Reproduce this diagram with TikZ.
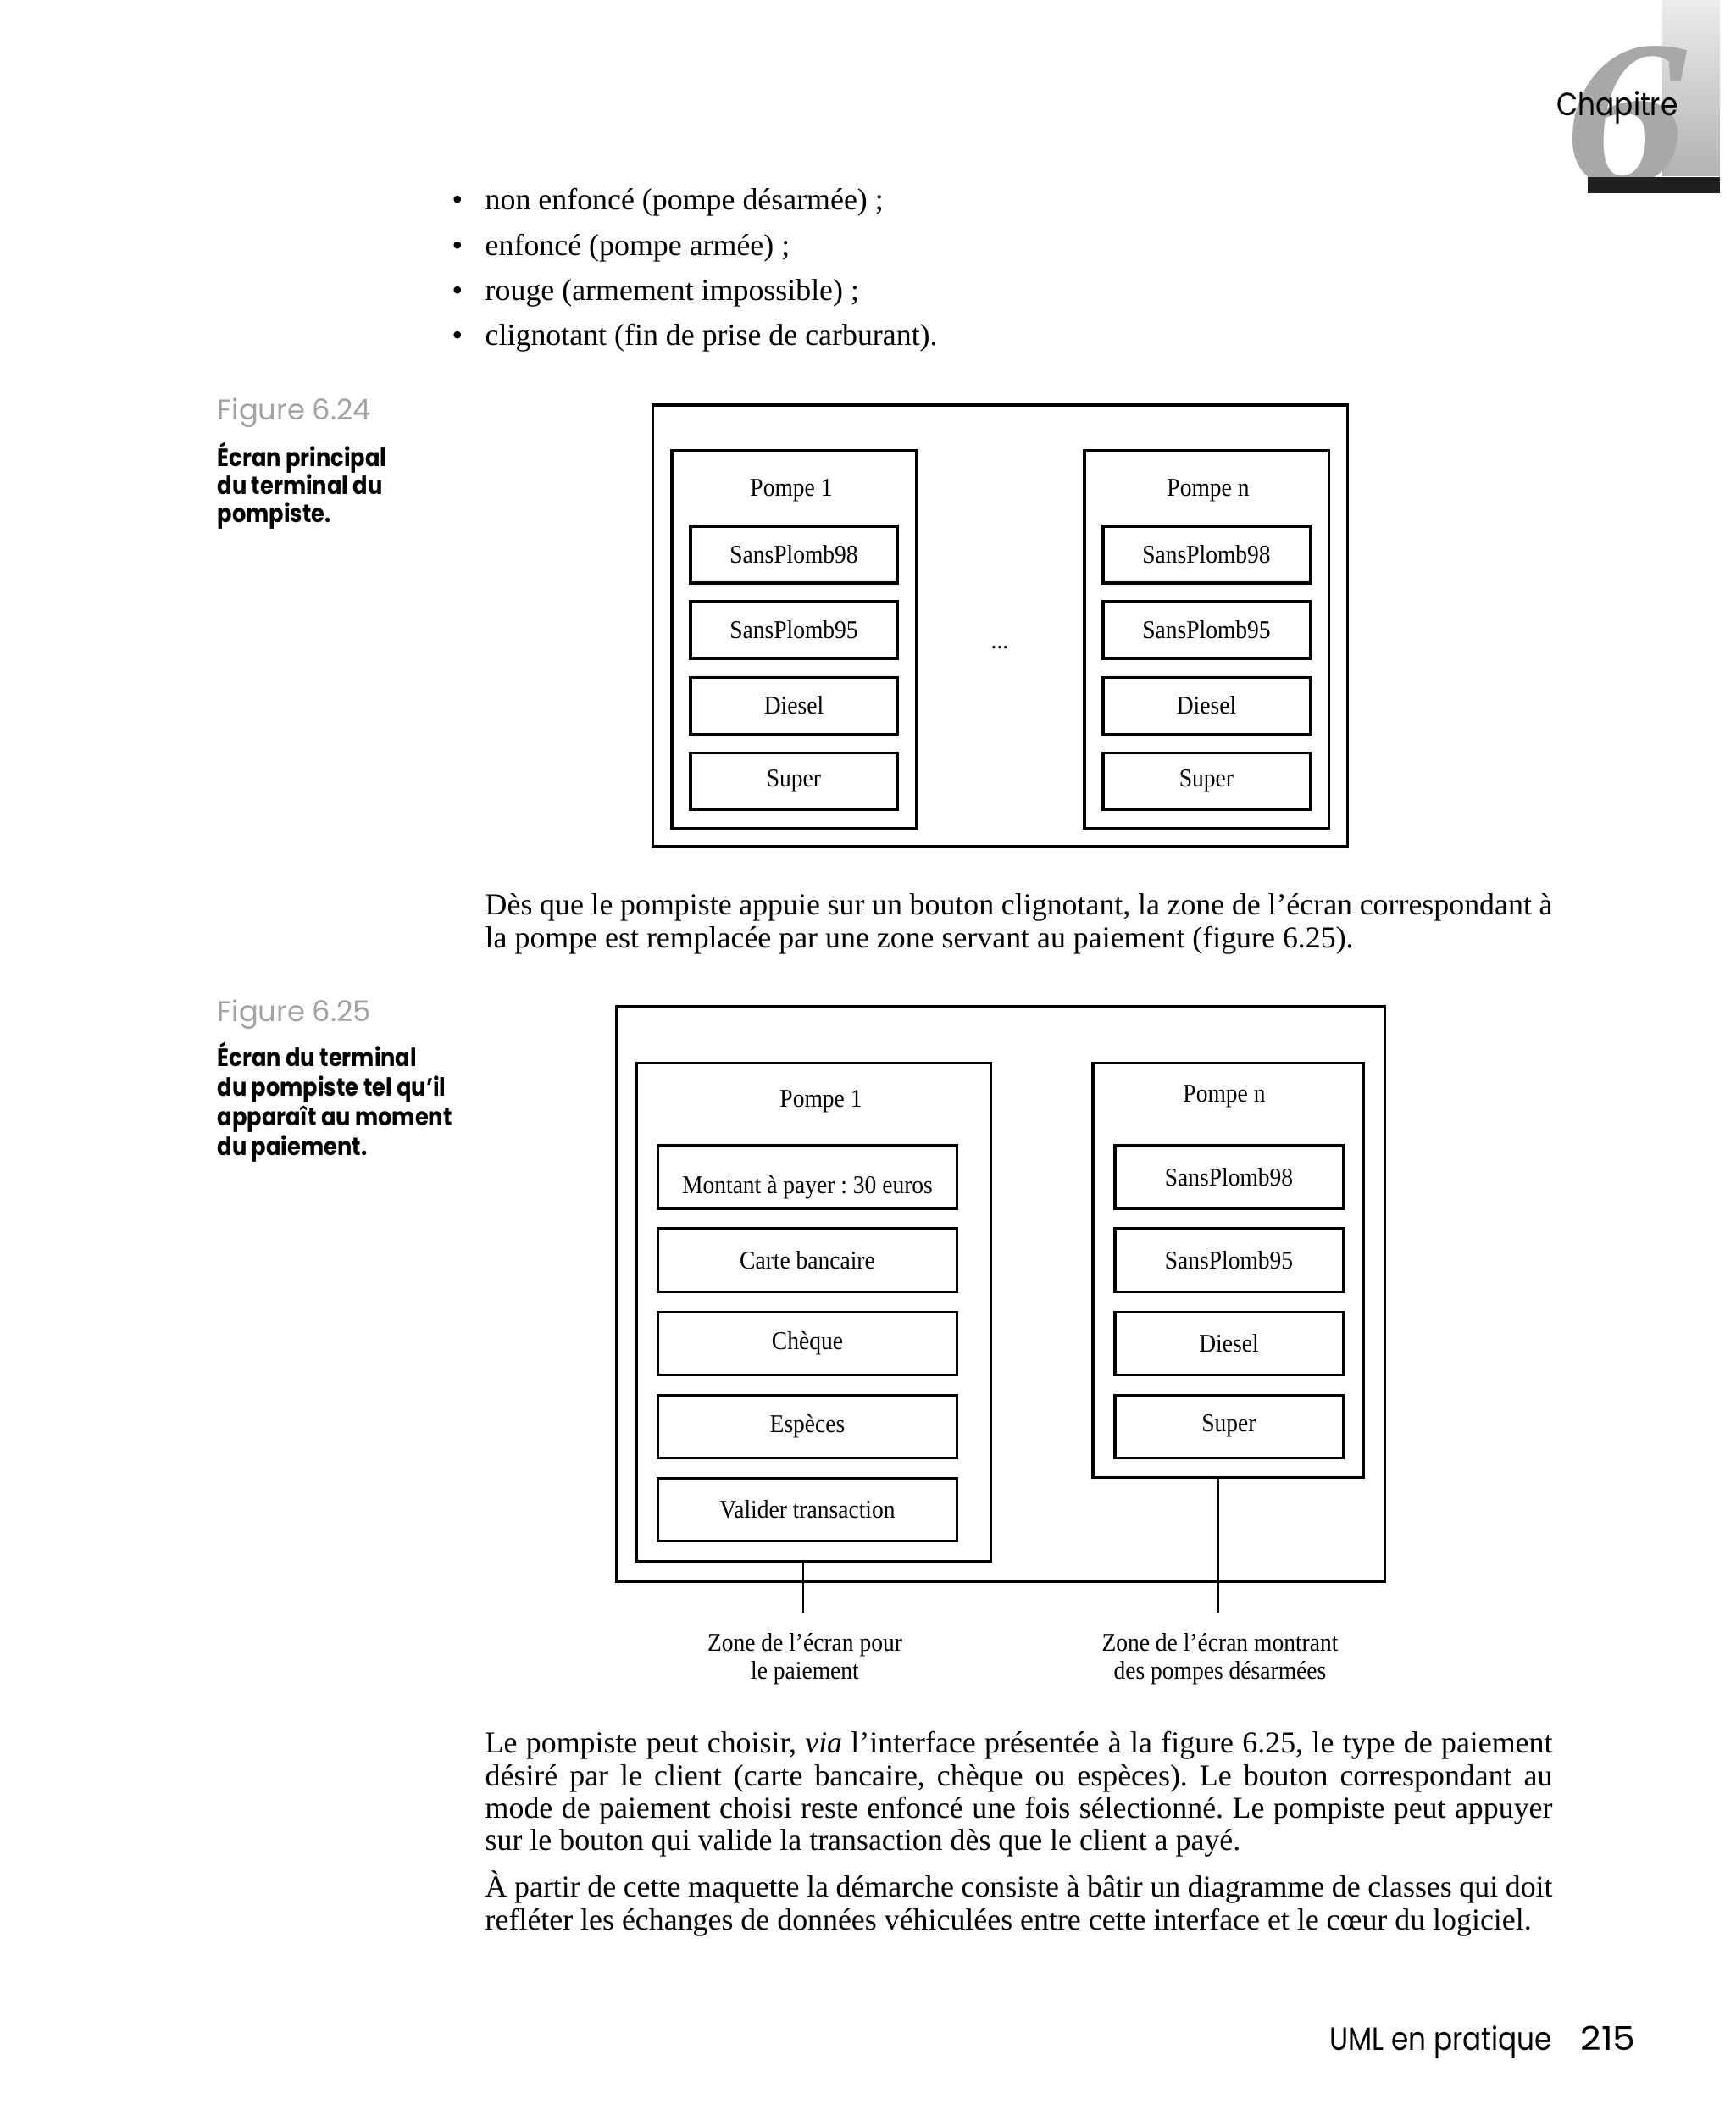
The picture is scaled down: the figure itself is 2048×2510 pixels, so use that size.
\documentclass[tikz,border=0pt]{standalone}
\usepackage{fontspec}
\setmainfont{Liberation Serif}
\newfontfamily\diagfont{Liberation Serif}[FakeStretch=0.91]
\newfontfamily\capfont{Poppins}
\newfontfamily\capboldfont{Poppins}[FakeStretch=0.87]
\newfontfamily\runfont{Poppins}[FakeStretch=0.86]
\newfontfamily\folio{Poppins}[FakeStretch=1.1]
\usetikzlibrary{positioning}
\definecolor{capgray}{gray}{0.64}
\definecolor{sixgray}{gray}{0.66}
\newcommand{\justline}[1]{\makebox[12.59cm][s]{#1}}
\frenchspacing

\tikzset{screen frame/.style={draw,line width=0.95pt,inner sep=0pt},
pump panel/.style={draw,line width=0.9pt,inner sep=0pt},
fuel button/.style={draw,line width=0.9pt,inner sep=0pt,outer sep=0pt,font=\diagfont\fontsize{8.6pt}{10pt}\selectfont},
panel title/.style={anchor=base,inner sep=0pt,font=\diagfont\fontsize{8.6pt}{10pt}\selectfont},
zone label/.style={align=center,inner sep=0pt,font=\diagfont\fontsize{8.6pt}{9.4pt}\selectfont},
zone line/.style={line width=0.6pt},
body line/.style={anchor=base west,inner sep=0pt,font=\fontsize{10.2pt}{12pt}\selectfont},
figure number/.style={anchor=base west,inner sep=0pt,text=capgray,font=\capfont\fontsize{9.6pt}{11pt}\selectfont},
figure title/.style={anchor=base west,inner sep=0pt,font=\capboldfont\bfseries\fontsize{8.4pt}{10pt}\selectfont},
running head/.style={anchor=base west,inner sep=0pt,font=\runfont\fontsize{10.8pt}{12pt}\selectfont}}

\begin{document}
\begin{tikzpicture}[x=0.01cm,y=-0.01cm]
\useasboundingbox (0,0) rectangle (2048,2510);

%% chapter mark
\shade[top color=gray!15,bottom color=gray!60] (1962,0) rectangle (2030,208);
\node [anchor=base,inner sep=0pt,xscale=1.18,text=sixgray,font=\fontsize{70pt}{70pt}\selectfont\bfseries\itshape] (chapsix) at (1919,218) {6};
\fill [black!88] (1874,209) rectangle (2030,228);
\node [running head] (chaphead) at (1837,137) {Chapitre};

%% bullet list
\node [body line] (dot1) at (533,248) {•};
\node [body line] (dot2) at (533,302) {•};
\node [body line] (dot3) at (533,355) {•};
\node [body line] (dot4) at (533,408) {•};
\node [body line] (item1) at (572,248) {non enfoncé (pompe désarmée) ;};
\node [body line] (item2) at (572,302) {enfoncé (pompe armée) ;};
\node [body line] (item3) at (572,355) {rouge (armement impossible) ;};
\node [body line] (item4) at (572,408) {clignotant (fin de prise de carburant).};

%% caption of figure 6.24
\node [figure number] (numA) at (256,496) {Figure 6.24};
\node [figure title] (titA1) at (256,551) {Écran principal};
\node [figure title] (titA2) at (256,584) {du terminal du};
\node [figure title] (titA3) at (256,617) {pompiste.};

%% figure 6.24
\node [screen frame,minimum width=8.19cm,minimum height=5.21cm] (scrA) at (1180.5,738.5) {};
\node [pump panel,minimum width=2.88cm,minimum height=4.45cm] (pA1) at (937,754.5) {};
\node [pump panel,minimum width=2.88cm,minimum height=4.45cm] (pAn) at (1424,754.5) {};
\node [panel title] (pA1t) at (934,586) {Pompe 1};
\node [panel title] (pAnt) at (1426,586) {Pompe n};
\node [fuel button,minimum width=2.44cm,minimum height=0.67cm] (a1sp98) at (937,654.5) {SansPlomb98};
\node [fuel button,minimum width=2.44cm,minimum height=0.67cm,below=0.22cm of a1sp98] (a1sp95) {SansPlomb95};
\node [fuel button,minimum width=2.44cm,minimum height=0.67cm,below=0.22cm of a1sp95] (a1dsl) {Diesel};
\node [fuel button,minimum width=2.44cm,minimum height=0.67cm,below=0.22cm of a1dsl] (a1sup) {Super};
\node [fuel button,minimum width=2.44cm,minimum height=0.67cm] (ansp98) at (1424,654.5) {SansPlomb98};
\node [fuel button,minimum width=2.44cm,minimum height=0.67cm,below=0.22cm of ansp98] (ansp95) {SansPlomb95};
\node [fuel button,minimum width=2.44cm,minimum height=0.67cm,below=0.22cm of ansp95] (andsl) {Diesel};
\node [fuel button,minimum width=2.44cm,minimum height=0.67cm,below=0.22cm of andsl] (ansup) {Super};
\node [panel title] (aDots) at (1180,765) {...};

%% paragraph after figure 6.24
\node [body line] (parA1) at (572,1079) {\justline{Dès que le pompiste appuie sur un bouton clignotant, la zone de l’écran correspondant à}};
\node [body line] (parA2) at (572,1118) {la pompe est remplacée par une zone servant au paiement (figure 6.25).};

%% caption of figure 6.25
\node [figure number] (numB) at (256,1205) {Figure 6.25};
\node [figure title] (titB1) at (256,1258) {Écran du terminal};
\node [figure title] (titB2) at (256,1293) {du pompiste tel qu’il};
\node [figure title] (titB3) at (256,1328) {apparaît au moment};
\node [figure title] (titB4) at (256,1363) {du paiement.};

%% figure 6.25
\node [screen frame,minimum width=9.06cm,minimum height=6.78cm] (scrB) at (1181,1527) {};
\node [pump panel,minimum width=4.17cm,minimum height=5.87cm] (pB1) at (960.5,1548.5) {};
\node [pump panel,minimum width=3.19cm,minimum height=4.88cm] (pBn) at (1449.5,1499) {};
\node [panel title] (pB1t) at (969,1306) {Pompe 1};
\node [panel title] (pBnt) at (1445,1300) {Pompe n};
\node [fuel button,minimum width=3.52cm,minimum height=0.74cm] (b1pay) at (953,1389) {\raisebox{-0.12cm}[\height][\depth]{Montant à payer : 30 euros}};
\node [fuel button,minimum width=3.52cm,minimum height=0.74cm,below=0.24cm of b1pay] (b1card) {Carte bancaire};
\node [fuel button,minimum width=3.52cm,minimum height=0.74cm,below=0.24cm of b1card] (b1chq) {Chèque};
\node [fuel button,minimum width=3.52cm,minimum height=0.74cm,below=0.24cm of b1chq] (b1cash) {Espèces};
\node [fuel button,minimum width=3.52cm,minimum height=0.74cm,below=0.24cm of b1cash] (b1ok) {Valider transaction};
\node [fuel button,minimum width=2.69cm,minimum height=0.74cm] (bnsp98) at (1450.5,1389) {SansPlomb98};
\node [fuel button,minimum width=2.69cm,minimum height=0.74cm,below=0.24cm of bnsp98] (bnsp95) {SansPlomb95};
\node [fuel button,minimum width=2.69cm,minimum height=0.74cm,below=0.24cm of bnsp95] (bndsl) {Diesel};
\node [fuel button,minimum width=2.69cm,minimum height=0.74cm,below=0.24cm of bndsl] (bnsup) {Super};

%% zone labels
\node [zone label] (zonePay) at (950,1958) {Zone de l’écran pour\\le paiement};
\node [zone label] (zoneIdle) at (1440,1958) {Zone de l’écran montrant\\des pompes désarmées};
\coordinate (zonePayEnd) at (948,1903);
\coordinate (zoneIdleEnd) at (1438,1903);
\draw [zone line] (zonePayEnd |- pB1.south) -- (zonePayEnd);
\draw [zone line] (zoneIdleEnd |- pBn.south) -- (zoneIdleEnd);

%% paragraphs after figure 6.25
\node [body line] (parB1) at (572,2068) {\justline{Le pompiste peut choisir, \textit{via} l’interface présentée à la figure 6.25, le type de paiement}};
\node [body line] (parB2) at (572,2107) {\justline{désiré par le client (carte bancaire, chèque ou espèces). Le bouton correspondant au}};
\node [body line] (parB3) at (572,2145) {\justline{mode de paiement choisi reste enfoncé une fois sélectionné. Le pompiste peut appuyer}};
\node [body line] (parB4) at (572,2183) {sur le bouton qui valide la transaction dès que le client a payé.};
\node [body line] (parC1) at (572,2238) {\justline{À partir de cette maquette la démarche consiste à bâtir un diagramme de classes qui doit}};
\node [body line] (parC2) at (572,2277) {refléter les échanges de données véhiculées entre cette interface et le cœur du logiciel.};

%% running foot
\node [running head] (footTitle) at (1569,2419) {UML en pratique};
\node [running head,font=\folio\fontsize{11pt}{12pt}\selectfont] (footPage) at (1865,2419) {215};

\end{tikzpicture}
\end{document}
